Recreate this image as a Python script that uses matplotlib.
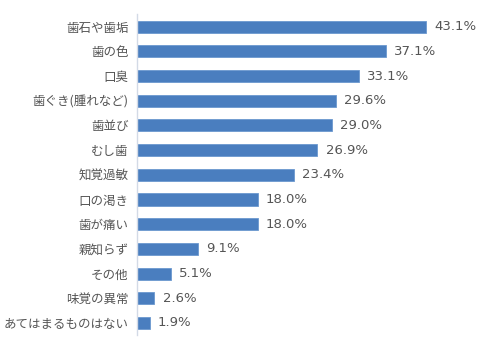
import matplotlib
matplotlib.use("Agg")
import matplotlib.pyplot as plt

categories = ["歯石や歯垢", "歯の色", "口臭", "歯ぐき(腫れなど)", "歯並び", "むし歯",
              "知覚過敏", "口の渇き", "歯が痛い", "親知らず", "その他", "味覚の異常",
              "あてはまるものはない"]
values = [43.1, 37.1, 33.1, 29.6, 29.0, 26.9, 23.4, 18.0, 18.0, 9.1, 5.1, 2.6, 1.9]

plt.rcParams['font.family'] = ['Noto Sans CJK JP', 'DejaVu Sans']

fig = plt.figure(figsize=(4.86, 3.5), dpi=100)
ax = fig.add_axes([0.282, 0.042, 0.69, 0.917])

pos = list(range(len(categories)))
ax.barh(pos, values, height=0.49, color="#4a7ebf", edgecolor="#6b98cf", linewidth=0.6)
ax.set_ylim(len(categories) - 0.5, -0.5)
ax.set_xlim(0, 50)

for p, v in zip(pos, values):
    ax.text(v + 1.2, p, f"{v:.1f}%", va="center", ha="left", fontsize=9.5,
            color="#555555", family=["DejaVu Sans"])

ax.set_yticks(pos)
ax.set_yticklabels(categories, fontsize=9, color="#555555")
ax.tick_params(axis="y", length=0, pad=6)
ax.set_xticks([])
for s in ["top", "right", "bottom"]:
    ax.spines[s].set_visible(False)
ax.spines["left"].set_color("#d3dae6")
ax.spines["left"].set_linewidth(1.0)

fig.savefig("out.png", dpi=100, facecolor="white")
